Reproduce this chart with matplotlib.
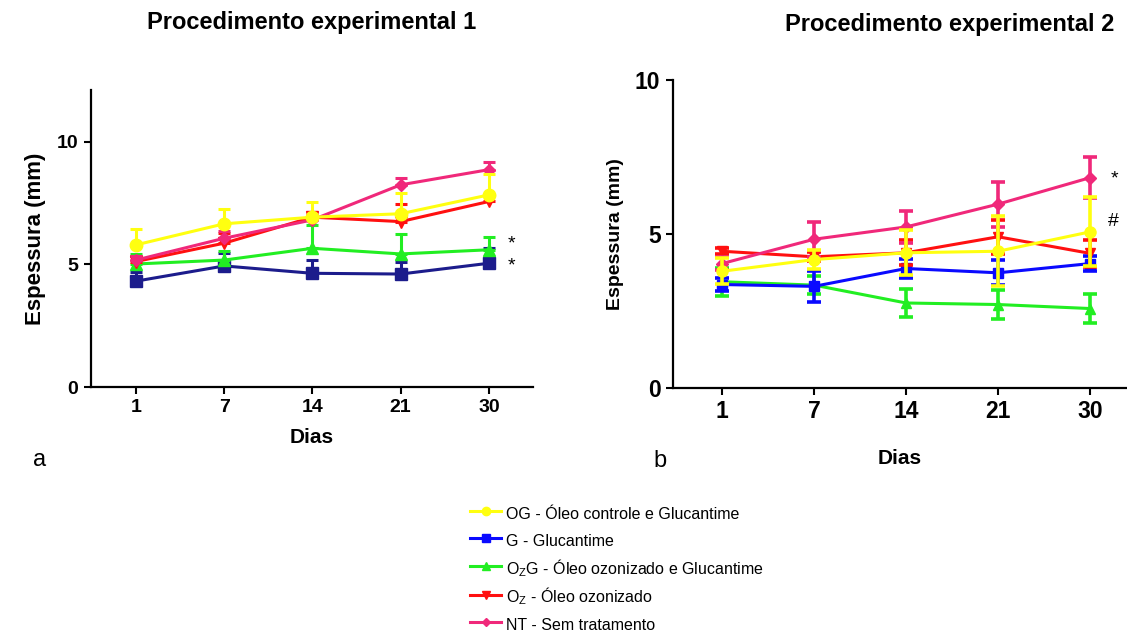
import matplotlib
matplotlib.use("Agg")
import matplotlib.pyplot as plt
import numpy as np

plt.rcParams['font.family'] = ['Liberation Sans', 'DejaVu Sans']
plt.rcParams['mathtext.fontset'] = 'custom'
plt.rcParams['mathtext.rm'] = 'Liberation Sans'
plt.rcParams['mathtext.it'] = 'Liberation Sans'

# dados
dias = ["1", "7", "14", "21", "30"]

# Procedimento experimental 1 (média e erro, só para cima)
og_1 = [5.80, 6.66, 6.93, 7.07, 7.84]
og_1_err = [0.65, 0.60, 0.63, 0.83, 0.85]
g_1 = [4.32, 4.94, 4.64, 4.61, 5.05]
g_1_err = [0.38, 0.54, 0.54, 0.49, 0.61]
o2g_1 = [5.02, 5.18, 5.66, 5.43, 5.60]
o2g_1_err = [0.41, 0.35, 0.94, 0.82, 0.54]
o2_1 = [5.12, 5.87, 6.93, 6.75, 7.57]
o2_1_err = [0.24, 0.41, 0.19, 0.73, 0.25]
nt_1 = [5.18, 6.07, 6.82, 8.25, 8.87]
nt_1_err = [0.15, 0.31, 0.10, 0.28, 0.30]

# Procedimento experimental 2 (média ± erro)
og_2 = [3.79, 4.17, 4.39, 4.44, 5.07]
og_2_err = [0.42, 0.32, 0.73, 1.14, 1.12]
g_2 = [3.36, 3.30, 3.88, 3.74, 4.04]
g_2_err = [0.20, 0.50, 0.30, 0.40, 0.25]
o2g_2 = [3.45, 3.34, 2.76, 2.71, 2.58]
o2g_2_err = [0.45, 0.30, 0.47, 0.47, 0.46]
o2_2 = [4.44, 4.26, 4.39, 4.91, 4.37]
o2_2_err = [0.10, 0.15, 0.40, 0.55, 0.45]
nt_2 = [4.04, 4.83, 5.23, 5.97, 6.83]
nt_2_err = [0.20, 0.57, 0.51, 0.73, 0.66]

rotulos = ["OG - Óleo controle e Glucantime",
           "G - Glucantime",
           r"O$_{\mathrm{Z}}$G - Óleo ozonizado e Glucantime",
           r"O$_{\mathrm{Z}}$ - Óleo ozonizado",
           "NT - Sem tratamento"]

W, H = 1127, 632
fig = plt.figure(figsize=(W / 100, H / 100), dpi=100)


def fx(p):
    return p / W


def fy(p):
    return 1 - p / H


def eixo(x0, x1, ytop, ybot):
    return fig.add_axes([fx(x0), fy(ybot), fx(x1) - fx(x0), fy(ytop) - fy(ybot)])


def estilo(ax, tam):
    for s in ['top', 'right']:
        ax.spines[s].set_visible(False)
    for s in ['left', 'bottom']:
        ax.spines[s].set_linewidth(1.6)
    ax.tick_params(width=1.5, length=5, labelsize=tam, pad=4)
    for t in ax.get_xticklabels() + ax.get_yticklabels():
        t.set_fontweight('bold')


x = np.arange(len(dias))

# ---- painel a ----
ax1 = eixo(91, 533, 90, 387)
series1 = [
    (g_1, g_1_err, '#1c1c8c', 's', 8),
    (o2g_1, o2g_1_err, '#22ee22', '^', 8),
    (o2_1, o2_1_err, '#ff1010', 'v', 8),
    (nt_1, nt_1_err, '#f0287a', 'D', 6),
    (og_1, og_1_err, '#ffff10', 'o', 9),
]
for i, (y, e, c, m, ms) in enumerate(series1):
    ax1.errorbar(x, y, yerr=[np.zeros(len(e)), e], color=c, marker=m, markersize=ms,
                 lw=2.2, elinewidth=2.2, capsize=4, capthick=2.2, zorder=3 + i)
ax1.set_xlim(-0.51, 4.5)
ax1.set_ylim(0, 12.12)
ax1.set_yticks([0, 5, 10])
ax1.set_xticks(x)
ax1.set_xticklabels(dias)
estilo(ax1, 14)
ax1.set_xlabel("Dias", fontsize=15, fontweight='bold', labelpad=8)
ax1.set_ylabel("Espessura (mm)", fontsize=16, fontweight='bold', labelpad=8)
ax1.text(4.21, 5.85, "*", fontsize=14, va='center', ha='left')
ax1.text(4.21, 4.95, "*", fontsize=14, va='center', ha='left')

# ---- painel b ----
ax2 = eixo(673, 1127, 80, 388)
series2 = [
    (o2g_2, o2g_2_err, '#22ee22', '^', 7, 2),
    (g_2, g_2_err, '#0a0aff', 's', 7, 1),
    (o2_2, o2_2_err, '#ff1010', 'v', 7, 3),
    (nt_2, nt_2_err, '#f0287a', 'D', 6, 4),
    (og_2, og_2_err, '#ffff10', 'o', 8, 0),
]
handles = {}
for i, (y, e, c, m, ms, k) in enumerate(series2):
    cont = ax2.errorbar(x, y, yerr=e, color=c, marker=m, markersize=ms,
                        lw=2.2, elinewidth=2.6, capsize=5, capthick=2.6, zorder=3 + i)
    handles[k] = cont[0]
ax2.set_xlim(-0.533, 4.40)
ax2.set_ylim(0, 10)
ax2.set_yticks([0, 5, 10])
ax2.set_xticks(x)
ax2.set_xticklabels(dias)
estilo(ax2, 16.5)
ax2.set_xlabel("Dias", fontsize=15, fontweight='bold', labelpad=18)
ax2.set_ylabel("Espessura (mm)", fontsize=14, fontweight='bold', labelpad=8)
ax2.text(4.22, 6.8, "*", fontsize=14, va='center', ha='left')
ax2.text(4.19, 5.4, "#", fontsize=14, va='center', ha='left')

# títulos e letras
fig.text(fx(312), fy(22), "Procedimento experimental 1", fontsize=17,
         fontweight='bold', ha='center', va='center')
fig.text(fx(950), fy(25), "Procedimento experimental 2", fontsize=17,
         fontweight='bold', ha='center', va='center')
fig.text(fx(40), fy(460), "a", fontsize=17, ha='center', va='center')
fig.text(fx(660), fy(461), "b", fontsize=17, ha='center', va='center')

# legenda
fig.legend([handles[k] for k in range(5)], rotulos, loc='upper left',
           bbox_to_anchor=(fx(464), fy(497)), frameon=False, fontsize=11.5,
           labelspacing=0.4, handleheight=1.6, handlelength=1.9,
           handletextpad=0.35, markerscale=0.75, borderaxespad=0)

fig.savefig("out.png", dpi=100)
